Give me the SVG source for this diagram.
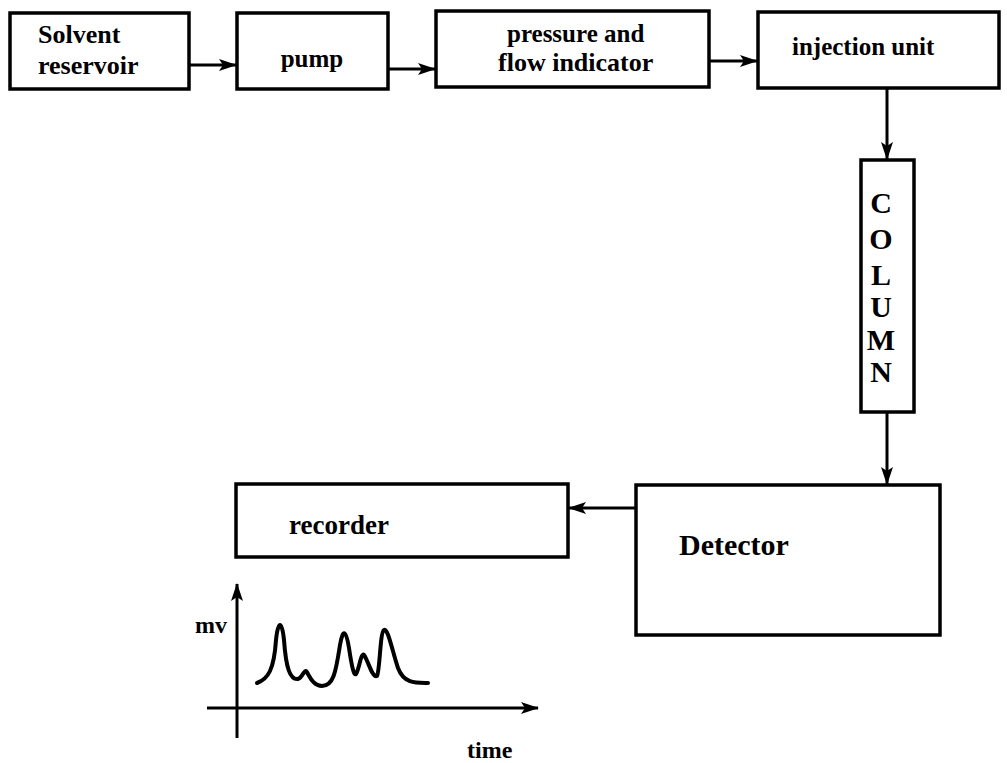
<svg xmlns="http://www.w3.org/2000/svg" width="1007" height="763" viewBox="0 0 1007 763">
<style>
.box{fill:#fff;stroke:#000;stroke-width:3.5}
.t{font-family:"Liberation Serif","Times New Roman",serif;font-size:26px;font-weight:bold;fill:#000}
.col{font-family:"Liberation Serif","Times New Roman",serif;font-size:30px;font-weight:bold;fill:#000;text-anchor:middle}
.ln{fill:none;stroke:#000;stroke-width:3}
</style>
<defs>
<marker id="ahb" markerWidth="18" markerHeight="12" refX="17" refY="6" orient="auto" markerUnits="userSpaceOnUse" viewBox="0 0 18 12">
<path d="M0,0 L18,6 L0,12 L4,6 Z" fill="#000"/>
</marker>
</defs>
<rect width="1007" height="763" fill="#fff"/>
<g id="solvent">
<rect class="box" x="10" y="13" width="179" height="76"/>
<text class="t" x="38" y="43">Solvent</text>
<text class="t" x="38" y="74">reservoir</text>
</g>
<g id="pump">
<rect class="box" x="237" y="13" width="151" height="76"/>
<text class="t" x="312" y="67" text-anchor="middle" style="font-size:25px">pump</text>
</g>
<g id="pressure">
<rect class="box" x="436" y="11" width="273" height="76"/>
<text class="t" x="507" y="42" style="font-size:25px">pressure and</text>
<text class="t" x="498" y="71">flow indicator</text>
</g>
<g id="injection">
<rect class="box" x="758" y="12" width="241" height="76"/>
<text class="t" x="792" y="55" style="font-size:25px">injection unit</text>
</g>
<g id="column">
<rect class="box" x="861" y="160" width="53" height="252"/>
<text class="col" x="881" y="213">C</text>
<text class="col" x="881" y="249">O</text>
<text class="col" x="881" y="285">L</text>
<text class="col" x="881" y="317">U</text>
<text class="col" x="881" y="350">M</text>
<text class="col" x="881" y="382">N</text>
</g>
<g id="detector">
<rect class="box" x="636" y="485" width="304" height="150"/>
<text class="t" x="679" y="555" style="font-size:30px">Detector</text>
</g>
<g id="recorder">
<rect class="box" x="236" y="484" width="332" height="73"/>
<text class="t" x="289" y="534" style="font-size:27px">recorder</text>
</g>
<g id="connectors">
<line class="ln" x1="189" y1="65" x2="236" y2="65" marker-end="url(#ahb)"/>
<line class="ln" x1="388" y1="69" x2="435" y2="69" marker-end="url(#ahb)"/>
<line class="ln" x1="709" y1="61" x2="757" y2="61" marker-end="url(#ahb)"/>
<line class="ln" x1="887" y1="88" x2="887" y2="159" marker-end="url(#ahb)"/>
<line class="ln" x1="887" y1="412" x2="887" y2="484" marker-end="url(#ahb)"/>
<line class="ln" x1="635" y1="508" x2="569" y2="508" marker-end="url(#ahb)"/>
</g>
<g id="chart">
<line class="ln" x1="237" y1="738" x2="237" y2="584" marker-end="url(#ahb)"/>
<line class="ln" x1="207" y1="708" x2="538" y2="708" marker-end="url(#ahb)"/>
<path d="M257,683 C268,679 274,670 276,640 C278,620 282,620 284,640 C286,668 290,680 298,679 C302,678 304,670 306,671 C309,674 312,686 322,686 C334,686 336,670 340,645 C343,628 346,630 349,648 C352,668 354,676 356,674 C359,670 361,652 364,655 C368,660 372,678 377,676 C380,670 380,632 384,630 C388,628 392,650 398,668 C404,684 416,683 428,683" fill="none" stroke="#000" stroke-width="4" stroke-linecap="round" stroke-linejoin="round"/>
<text class="t" x="195" y="633" style="font-size:24px">mv</text>
<text class="t" x="467" y="758" style="font-size:24px">time</text>
</g>
</svg>
